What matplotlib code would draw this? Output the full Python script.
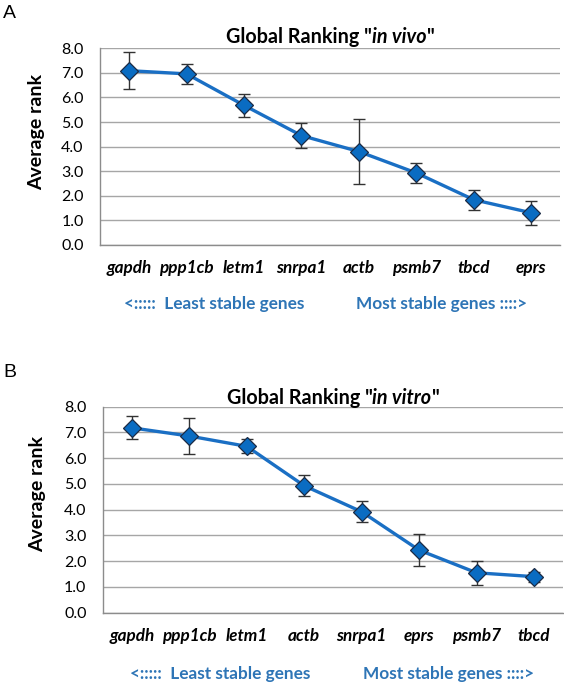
import matplotlib
matplotlib.use('Agg')
import matplotlib.pyplot as plt
import numpy as np

# ---- data ----
genes_vivo = ['gapdh', 'ppp1cb', 'letm1', 'snrpa1', 'actb', 'psmb7', 'tbcd', 'eprs']
rank_vivo = [7.09, 6.96, 5.68, 4.45, 3.80, 2.93, 1.84, 1.31]
err_vivo = [0.75, 0.40, 0.46, 0.50, 1.31, 0.41, 0.41, 0.48]

genes_vitro = ['gapdh', 'ppp1cb', 'letm1', 'actb', 'snrpa1', 'eprs', 'psmb7', 'tbcd']
rank_vitro = [7.18, 6.86, 6.46, 4.93, 3.92, 2.43, 1.55, 1.40]
err_vitro = [0.45, 0.70, 0.27, 0.40, 0.40, 0.63, 0.47, 0.20]

yticks = [0, 1, 2, 3, 4, 5, 6, 7, 8]
ytick_labels = ['0.0', '1.0', '2.0', '3.0', '4.0', '5.0', '6.0', '7.0', '8.0']
ylabel = 'Average rank'
least_txt = '<:::::  Least stable genes'
most_txt = 'Most stable genes ::::>'

plt.rcParams['font.family'] = ['Lato', 'DejaVu Sans']

W, H = 564, 683
fig = plt.figure(figsize=(W / 100, H / 100), dpi=100)

LINE_C = '#1a6fc4'
MFC = '#0a6cc2'
MEC = '#1b2b45'
BLUE_TXT = '#2e75b6'
GRID_C = '#a6a6a6'
AX_C = '#8c8c8c'


def px(x, y):
    return x / W, 1 - y / H


def title_parts(parts, xc, ybase, size):
    texts = []
    for s, style in parts:
        t = fig.text(0, 0, s, fontsize=size, fontweight='bold', fontstyle=style,
                     va='baseline', ha='left')
        texts.append(t)
    r = fig.canvas.get_renderer()
    widths = [t.get_window_extent(r).width for t in texts]
    total = sum(widths)
    x = xc - total / 2
    for t, w in zip(texts, widths):
        t.set_position(px(x, ybase))
        x += w


def panel(left, top, right, bottom, genes, ranks, errs, tparts, ttl_base,
          ylab_xy, least_xy, most_xy, letter, letter_xy):
    l, b = px(left, bottom)
    r_, t_ = px(right, top)
    ax = fig.add_axes([l, b, r_ - l, t_ - b])
    x = np.arange(len(genes))
    ax.errorbar(x, ranks, yerr=errs, fmt='none', ecolor='#333333',
                elinewidth=1.0, capsize=4, capthick=1.0, zorder=2)
    ax.plot(x, ranks, color=LINE_C, lw=2.4, marker='D', ms=8.8,
            mfc=MFC, mec=MEC, mew=0.9, zorder=3)
    ax.set_xlim(-0.5, len(genes) - 0.5)
    ax.set_ylim(0, 8)
    ax.set_yticks(yticks)
    ax.set_yticklabels(ytick_labels, fontsize=11.5)
    ax.set_xticks(x)
    ax.set_xticklabels(genes, fontsize=12.3, fontweight='bold', fontstyle='italic')
    ax.tick_params(axis='y', length=0, pad=12)
    ax.tick_params(axis='x', length=0, pad=11)
    ax.grid(axis='y', color=GRID_C, lw=1.0)
    ax.set_axisbelow(True)
    for s in ['top', 'right']:
        ax.spines[s].set_visible(False)
    for s in ['left', 'bottom']:
        ax.spines[s].set_color(AX_C)
        ax.spines[s].set_linewidth(1.0)
    title_parts(tparts, (left + right) / 2, ttl_base, 14.2)
    fig.text(*px(*ylab_xy), ylabel, rotation=90, fontsize=14, fontweight='bold',
             ha='center', va='center')
    fig.text(*px(*least_xy), least_txt, color=BLUE_TXT, fontsize=12.4,
             fontweight='bold', ha='left', va='center')
    fig.text(*px(*most_xy), most_txt, color=BLUE_TXT, fontsize=12.4,
             fontweight='bold', ha='left', va='center')
    fig.text(*px(*letter_xy), letter, fontsize=14, family='Liberation Sans',
             ha='left', va='center')
    return ax


panel(100.4, 48.3, 560, 245, genes_vivo, rank_vivo, err_vivo,
      [('Global Ranking "', 'normal'), ('in vivo', 'italic'), ('"', 'normal')], 43,
      (37, 132.5), (124, 304), (356, 304), 'A', (3, 13.5))

panel(103.2, 406.7, 562.7, 612.7, genes_vitro, rank_vitro, err_vitro,
      [('Global Ranking "', 'normal'), ('in vitro', 'italic'), ('"', 'normal')], 404,
      (38, 494), (129.5, 674), (363, 674), 'B', (3, 372.5))

fig.savefig('out.png', dpi=100)
